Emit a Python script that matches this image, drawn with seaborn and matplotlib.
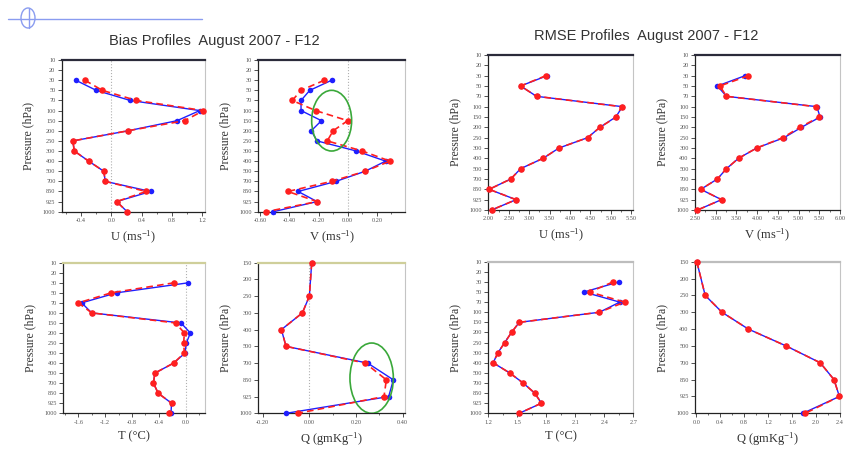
import numpy as np
import pandas as pd
import matplotlib
matplotlib.use("Agg")
import matplotlib.pyplot as plt
import seaborn as sns
from matplotlib.patches import Ellipse
from matplotlib.lines import Line2D
from matplotlib.ticker import AutoMinorLocator, FormatStrFormatter

nan = np.nan

# Pressure levels (hPa)
levels = [10, 20, 30, 50, 70, 100, 150, 200, 250, 300, 400, 500, 700, 850, 925, 1000]
q_levels = [150, 200, 250, 300, 400, 500, 700, 850, 925, 1000]

# Bias profiles
u_bias_blue = [nan, nan, -0.47, -0.20, 0.25, 1.17, 0.87, 0.22, -0.51, -0.49, -0.30, -0.10, -0.08, 0.52, 0.07, 0.21]
u_bias_red = [nan, nan, -0.35, -0.12, 0.33, 1.22, 0.97, 0.22, -0.51, -0.49, -0.30, -0.10, -0.08, 0.46, 0.07, 0.21]
v_bias_blue = [nan, nan, -0.11, -0.26, -0.32, -0.32, -0.18, -0.25, -0.21, 0.06, 0.26, 0.12, -0.08, -0.34, -0.21, -0.51]
v_bias_red = [nan, nan, -0.16, -0.32, -0.38, -0.22, 0.00, -0.10, -0.14, 0.10, 0.29, 0.12, -0.11, -0.41, -0.21, -0.56]
t_bias_blue = [nan, nan, 0.04, -1.03, -1.55, -1.40, -0.07, 0.07, 0.01, -0.01, -0.18, -0.46, -0.48, -0.41, -0.21, -0.22]
t_bias_red = [nan, nan, -0.17, -1.11, -1.60, -1.40, -0.15, -0.02, -0.03, -0.02, -0.18, -0.46, -0.48, -0.41, -0.21, -0.25]
q_bias_blue = [0.01, nan, 0.00, -0.03, -0.12, -0.10, 0.25, 0.36, 0.34, -0.10]
q_bias_red = [0.01, nan, 0.00, -0.03, -0.12, -0.10, 0.24, 0.33, 0.32, -0.05]

# RMSE profiles
u_rmse_blue = [nan, nan, 3.44, 2.79, 3.18, 5.28, 5.12, 4.73, 4.43, 3.73, 3.34, 2.79, 2.55, 2.02, 2.68, 2.08]
u_rmse_red = [nan, nan, 3.41, 2.79, 3.18, 5.26, 5.13, 4.73, 4.43, 3.73, 3.34, 2.79, 2.55, 2.02, 2.68, 2.08]
v_rmse_blue = [nan, nan, 3.71, 3.04, 3.26, 5.44, 5.52, 5.07, 4.65, 3.99, 3.55, 3.26, 3.04, 2.64, 3.14, 2.56]
v_rmse_red = [nan, nan, 3.79, 3.10, 3.26, 5.42, 5.50, 5.03, 4.62, 3.99, 3.55, 3.26, 3.04, 2.64, 3.14, 2.56]
t_rmse_blue = [nan, nan, 2.55, 2.19, 2.56, 2.35, 1.52, 1.44, 1.37, 1.30, 1.25, 1.42, 1.56, 1.68, 1.75, 1.52]
t_rmse_red = [nan, nan, 2.49, 2.25, 2.61, 2.35, 1.52, 1.44, 1.37, 1.30, 1.25, 1.42, 1.56, 1.68, 1.75, 1.52]
q_rmse_blue = [0.01, nan, 0.15, 0.43, 0.87, 1.50, 2.07, 2.30, 2.39, 1.78]
q_rmse_red = [0.01, nan, 0.15, 0.43, 0.87, 1.50, 2.07, 2.30, 2.39, 1.82]

# Axis tick values
u_bias_ticks = [-0.4, 0.0, 0.4, 0.8, 1.2]
v_bias_ticks = [-0.6, -0.4, -0.2, 0.0, 0.2]
t_bias_ticks = [-1.6, -1.2, -0.8, -0.4, 0.0]
q_bias_ticks = [-0.2, 0.0, 0.2, 0.4]
u_rmse_ticks = [2.0, 2.5, 3.0, 3.5, 4.0, 4.5, 5.0, 5.5]
v_rmse_ticks = [2.5, 3.0, 3.5, 4.0, 4.5, 5.0, 5.5, 6.0]
t_rmse_ticks = [1.2, 1.5, 1.8, 2.1, 2.4, 2.7]
q_rmse_ticks = [0.0, 0.4, 0.8, 1.2, 1.6, 2.0, 2.4]

sns.set_theme(style="ticks")
plt.rcParams["font.family"] = ["Liberation Serif", "DejaVu Serif"]
plt.rcParams["mathtext.fontset"] = "custom"
plt.rcParams["mathtext.rm"] = "Liberation Serif"
plt.rcParams["mathtext.it"] = "Liberation Serif:italic"

W, H = 846, 453
fig = plt.figure(figsize=(W / 100, H / 100), dpi=100)
fig.patch.set_facecolor("white")

BLUE = "#1f1fff"
RED = "#ff1f1f"
GREEN = "#3aa83a"


def rect(left, right, top, bottom):
    return [left / W, 1 - bottom / H, (right - left) / W, (bottom - top) / H]


def profile(box, lev, blue, red, xlim, xticks, fmt, xlabel, zero=False,
            top_color="#2b2b3a", ellipse=None):
    ax = fig.add_axes(rect(*box))
    n = len(lev)
    for vals, color, ls, lw, ms in ((blue, BLUE, "-", 1.0, 4.0),
                                    (red, RED, (0, (4, 2.5)), 1.2, 4.7)):
        df = pd.DataFrame({"idx": np.arange(n), "val": vals}).dropna()
        sns.lineplot(data=df, x="val", y="idx", sort=False, estimator=None,
                     orient="y", ax=ax, color=color, linestyle=ls, linewidth=lw,
                     marker="o", markersize=ms, markeredgewidth=0,
                     clip_on=False, zorder=3)
    if zero:
        ax.axvline(0, color="#b0b0b0", linestyle=":", linewidth=0.8, zorder=1)
    if ellipse is not None:
        cx, cy, ew, eh = ellipse
        ax.add_patch(Ellipse((cx, cy), ew, eh, fill=False, edgecolor=GREEN,
                             linewidth=1.2, zorder=4))
    ax.set_ylim(n - 1, 0)
    ax.set_yticks(np.arange(n))
    ax.set_yticklabels([str(v) for v in lev])
    ax.set_xlim(*xlim)
    ax.set_xticks(xticks)
    ax.xaxis.set_major_formatter(FormatStrFormatter(fmt))
    ax.xaxis.set_minor_locator(AutoMinorLocator(2))
    ax.tick_params(axis="both", which="major", labelsize=4.5, length=3,
                   width=0.6, pad=1.5, labelcolor="#555555", color="#333333")
    ax.tick_params(axis="x", which="minor", length=1.5, width=0.5, color="#333333")
    ax.set_xlabel(xlabel, fontsize=9, color="#333333", labelpad=4)
    ax.set_ylabel("Pressure (hPa)", fontsize=8.5, color="#333333", labelpad=6)
    for side in ("left", "bottom"):
        ax.spines[side].set_color("#222222")
        ax.spines[side].set_linewidth(0.9)
    ax.spines["top"].set_color(top_color)
    ax.spines["top"].set_linewidth(1.6)
    ax.spines["right"].set_color("#c4c4c4")
    ax.spines["right"].set_linewidth(0.8)
    ax.set_facecolor("white")
    return ax


u_lab = r"U (ms$^{-1}$)"
v_lab = r"V (ms$^{-1}$)"
t_lab = "T (°C)"
q_lab = r"Q (gmKg$^{-1}$)"

profile((61.7, 205, 60, 211.7), levels, u_bias_blue, u_bias_red,
        (-0.657, 1.24), u_bias_ticks, "%.1f", u_lab, zero=True)
profile((258.3, 405, 60, 211.7), levels, v_bias_blue, v_bias_red,
        (-0.613, 0.393), v_bias_ticks, "%.2f", v_lab, zero=True,
        ellipse=(-0.11, 6.0, 0.274, 6.0))
profile((488.3, 633, 55, 210), levels, u_rmse_blue, u_rmse_red,
        (2.0, 5.54), u_rmse_ticks, "%.2f", u_lab)
profile((695, 840, 55, 210), levels, v_rmse_blue, v_rmse_red,
        (2.5, 6.0), v_rmse_ticks, "%.2f", v_lab)
profile((63.3, 205, 262.7, 413.3), levels, t_bias_blue, t_bias_red,
        (-1.824, 0.288), t_bias_ticks, "%.1f", t_lab, zero=True,
        top_color="#cfcf9a")
profile((258.3, 405, 262.7, 413.3), q_levels, q_bias_blue, q_bias_red,
        (-0.219, 0.41), q_bias_ticks, "%.2f", q_lab, zero=True,
        top_color="#cfcf9a", ellipse=(0.267, 6.9, 0.186, 4.2))
profile((488.3, 633.3, 261.7, 413.3), levels, t_rmse_blue, t_rmse_red,
        (1.2, 2.7), t_rmse_ticks, "%.1f", t_lab, top_color="#bdbdbd")
profile((695, 840, 261.7, 413.3), q_levels, q_rmse_blue, q_rmse_red,
        (-0.02, 2.4), q_rmse_ticks, "%.1f", q_lab, top_color="#bdbdbd")

fig.text(214 / W, 1 - 41 / H, "Bias Profiles  August 2007 - F12", ha="center",
         va="center", fontsize=10.5, family="Liberation Sans", color="#333333")
fig.text(646 / W, 1 - 36 / H, "RMSE Profiles  August 2007 - F12", ha="center",
         va="center", fontsize=10.5, family="Liberation Sans", color="#333333")

# small emblem with a rule in the upper left corner
logo = "#8a9cf0"
fig.add_artist(Line2D([8 / W, 202 / W], [1 - 19 / H] * 2, color=logo,
                      linewidth=1.0, transform=fig.transFigure))
fig.add_artist(Ellipse((28 / W, 1 - 18 / H), 14 / W, 20 / H, fill=False,
                       edgecolor=logo, linewidth=1.0, transform=fig.transFigure))
fig.add_artist(Line2D([29 / W, 29 / W], [1 - 8 / H, 1 - 28 / H], color=logo,
                      linewidth=1.0, transform=fig.transFigure))

fig.savefig("out.png", dpi=100, facecolor="white")
